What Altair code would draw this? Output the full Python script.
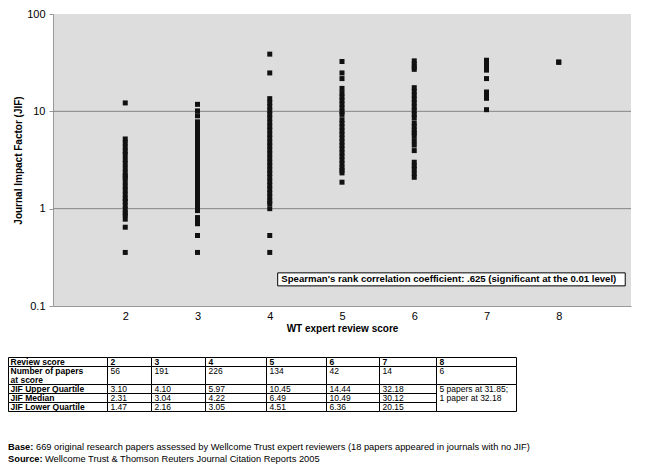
import altair as alt
import pandas as pd

# ---------------- data ----------------
scores = [2, 3, 4, 5, 6, 7, 8]
jif_score2 = [12.2, 5.2, 4.75, 4.3, 3.9, 3.6, 3.2, 2.9, 2.6, 2.35, 2.16, 2.08, 1.88, 1.7,
              1.55, 1.4, 1.27, 1.19, 1.08, 0.98, 0.9, 0.86, 0.78, 0.645, 0.355]
jif_score3 = [11.8, 10.1, 9.0, 7.8, 7.3, 6.7, 6.1, 5.6, 5.1, 4.65, 4.25, 3.9, 3.55, 3.25,
              2.95, 2.7, 2.45, 2.25, 2.05, 1.87, 1.7, 1.55, 1.42, 1.3, 1.18, 1.08, 1.0,
              0.955, 0.81, 0.75, 0.70, 0.53, 0.355]
jif_score4 = [38.7, 24.8, 13.5, 12.3, 11.2, 10.2, 9.3, 8.5, 7.7, 7.0, 6.4, 5.8, 5.3, 4.8,
              4.4, 4.0, 3.65, 3.3, 3.0, 2.75, 2.5, 2.3, 2.1, 1.9, 1.73, 1.58, 1.44, 1.32,
              1.2, 1.13, 1.0, 0.53, 0.355]
jif_score5 = [32.5, 24.8, 21.7, 17.2, 15.4, 14.1, 12.9, 11.8, 10.8, 9.9, 9.3, 8.2, 7.5, 6.9,
              6.3, 5.8, 5.3, 4.85, 4.45, 4.1, 3.75, 3.45, 3.15, 2.9, 2.65, 2.48, 2.33, 1.87]
jif_score6 = [33.0, 30.5, 28.5, 27.0, 17.5, 16.0, 14.6, 13.3, 12.2, 11.1, 10.2, 9.3, 8.6,
              7.6, 7.0, 6.4, 6.0, 5.6, 5.0, 4.5, 3.95, 3.0, 2.75, 2.55, 2.3, 2.1]
jif_score7 = [33.5, 31.5, 28.5, 26.5, 21.7, 15.8, 14.7, 13.6, 10.4]
jif_score8 = [31.85, 32.18]

y_tick_values = [0.1, 1, 10, 100]
grid_values = [1, 10]

spearman_text = "Spearman's rank correlation coefficient: .625 (significant at the 0.01 level)"

table_header = ["Review score", "2", "3", "4", "5", "6", "7", "8"]
papers_label = ["Number of papers", "at score"]
n_papers = ["56", "191", "226", "134", "42", "14", "6"]
upper_label = "JIF Upper Quartile"
upper_q = ["3.10", "4.10", "5.97", "10.45", "14.44", "32.18"]
median_label = "JIF Median"
median_q = ["2.31", "3.04", "4.22", "6.49", "10.49", "30.12"]
lower_label = "JIF Lower Quartile"
lower_q = ["1.47", "2.16", "3.05", "4.51", "6.36", "20.15"]
score8_note = ["5 papers at 31.85;", "1 paper at 32.18"]

base_label = "Base:"
base_text = ("669 original research papers assessed by Wellcome Trust expert reviewers "
             "(18 papers appeared in journals with no JIF)")
source_label = "Source:"
source_text = "Wellcome Trust & Thomson Reuters Journal Citation Reports 2005"

# ---------------- layout (page pixels / data units for annotation) ----------------
FONT = "Liberation Sans"
PLOT_W, PLOT_H = 578, 292
PAD = {"left": 45, "top": 6, "right": 23, "bottom": 160}
ORIGIN_X = 8 + PAD["left"]
ORIGIN_Y = 8 + PAD["top"]

box_score = [4.11, 8.92]
box_jif = [0.161, 0.219]
box_text_pos = (4.16, 0.188)

col_edges = [8.5, 107.5, 151.5, 205.5, 266.5, 326.5, 379.5, 436.5, 516.5]
row_edges = [357.5, 366.5, 384.5, 393.5, 402.5, 411.5]
row_text_y = [362, 371, 380, 389, 398, 407]
TABLE_FONT = 8.5
first_col_dx = 2
col_dx = 3
FOOT_FONT = 9.3
footer_y = [447, 459]
footer_x = [8, 36, 8, 45]

# ---------------- scatter ----------------
series = [jif_score2, jif_score3, jif_score4, jif_score5, jif_score6, jif_score7, jif_score8]
rows = []
for s, vals in zip(scores, series):
    for v in vals:
        rows.append({"score": s, "jif": v})
pts = pd.DataFrame(rows)

x_plot = alt.X(
    "score:Q",
    scale=alt.Scale(domain=[1, 9], nice=False, zero=False),
    axis=alt.Axis(values=scores, format="d", ticks=False, grid=False, labelPadding=4,
                  domainColor="#999999", labelFont=FONT, labelFontSize=11, labelColor="#000000",
                  title="WT expert review score", titleFont=FONT, titleFontSize=10,
                  titleFontWeight="bold", titleColor="#000000", titlePadding=2),
)
y_plot = alt.Y(
    "jif:Q",
    scale=alt.Scale(type="log", domain=[0.1, 100], nice=False),
    axis=alt.Axis(values=y_tick_values, format="~g", grid=False, tickSize=4, tickColor="#999999",
                  domainColor="#999999", labelPadding=4, labelFont=FONT, labelFontSize=11,
                  labelColor="#000000", title="Journal Impact Factor (JIF)", titleFont=FONT,
                  titleFontSize=10, titleFontWeight="bold", titleColor="#000000", titlePadding=3),
)

grid = alt.Chart(pd.DataFrame({"jif": grid_values})).mark_rule(
    color="#858585", strokeWidth=1
).encode(y=y_plot)

points = alt.Chart(pts).mark_square(size=25, color="#111111", opacity=1).encode(x=x_plot, y=y_plot)

box_df = pd.DataFrame({"score": [box_score[0]], "score_end": [box_score[1]],
                       "jif": [box_jif[0]], "jif_end": [box_jif[1]]})
box = alt.Chart(box_df).mark_rect(fill="white", stroke="black", strokeWidth=1).encode(
    x=x_plot, x2="score_end", y=y_plot, y2="jif_end")
box_label = alt.Chart(pd.DataFrame({"score": [box_text_pos[0]], "jif": [box_text_pos[1]],
                                    "label": [spearman_text]})).mark_text(
    align="left", baseline="middle", font=FONT, fontSize=9.6, fontWeight="bold", color="black"
).encode(x=x_plot, y=y_plot, text="label")

plot_layer = alt.layer(grid, points, box, box_label)

# ---------------- table + footer ----------------
cells = []
n_cols = len(col_edges) - 1
for r in range(5):
    for c in range(n_cols):
        if c == n_cols - 1 and r >= 2:
            continue
        cells.append({"px": col_edges[c], "px2": col_edges[c + 1],
                      "py": row_edges[r], "py2": row_edges[r + 1]})
cells.append({"px": col_edges[-2], "px2": col_edges[-1], "py": row_edges[2], "py2": row_edges[5]})
cells_df = pd.DataFrame(cells)

texts = []


def add(t, x, y, bold, size):
    texts.append({"t": t, "px": x, "py": y, "bold": bold, "size": size})


for c, h in enumerate(table_header):
    x = col_edges[c] + (first_col_dx if c == 0 else col_dx)
    add(h, x, row_text_y[0], True, TABLE_FONT)
add(papers_label[0], col_edges[0] + first_col_dx, row_text_y[1], True, TABLE_FONT)
add(papers_label[1], col_edges[0] + first_col_dx, row_text_y[2], True, TABLE_FONT)
for c, v in enumerate(n_papers):
    add(v, col_edges[c + 1] + col_dx, row_text_y[1], False, TABLE_FONT)
for label, vals, yy in [(upper_label, upper_q, row_text_y[3]),
                        (median_label, median_q, row_text_y[4]),
                        (lower_label, lower_q, row_text_y[5])]:
    add(label, col_edges[0] + first_col_dx, yy, True, TABLE_FONT)
    for c, v in enumerate(vals):
        add(v, col_edges[c + 1] + col_dx, yy, False, TABLE_FONT)
add(score8_note[0], col_edges[-2] + col_dx, row_text_y[3], False, TABLE_FONT)
add(score8_note[1], col_edges[-2] + col_dx, row_text_y[4], False, TABLE_FONT)

add(base_label, footer_x[0], footer_y[0], True, FOOT_FONT)
add(base_text, footer_x[1], footer_y[0], False, FOOT_FONT)
add(source_label, footer_x[2], footer_y[1], True, FOOT_FONT)
add(source_text, footer_x[3], footer_y[1], False, FOOT_FONT)
texts_df = pd.DataFrame(texts)

x_tab = alt.X("px:Q", scale=alt.Scale(domain=[ORIGIN_X, ORIGIN_X + PLOT_W],
                                      range=[0, PLOT_W], nice=False, zero=False), axis=None)
y_tab = alt.Y("py:Q", scale=alt.Scale(domain=[ORIGIN_Y, ORIGIN_Y + PLOT_H],
                                      range=[0, PLOT_H], nice=False, zero=False), axis=None)
size_enc = alt.Size("size:Q", scale=None, legend=None)

table_cells = alt.Chart(cells_df).mark_rect(fill="white", stroke="black", strokeWidth=1).encode(
    x=x_tab, x2="px2", y=y_tab, y2="py2")
text_bold = alt.Chart(texts_df).transform_filter("datum.bold").mark_text(
    align="left", baseline="middle", font=FONT, fontWeight="bold", color="black"
).encode(x=x_tab, y=y_tab, text="t:N", size=size_enc)
text_reg = alt.Chart(texts_df).transform_filter("!datum.bold").mark_text(
    align="left", baseline="middle", font=FONT, color="black"
).encode(x=x_tab, y=y_tab, text="t:N", size=size_enc)

table_layer = alt.layer(table_cells, text_bold, text_reg)

chart = alt.layer(plot_layer, table_layer).resolve_scale(
    x="independent", y="independent"
).properties(
    width=PLOT_W, height=PLOT_H, padding=PAD,
    autosize=alt.AutoSizeParams(type="none"),
    background="white",
).configure_view(fill="#dddddd", strokeWidth=0)

chart.save("out.html", embed_options={"renderer": "svg", "actions": False})
